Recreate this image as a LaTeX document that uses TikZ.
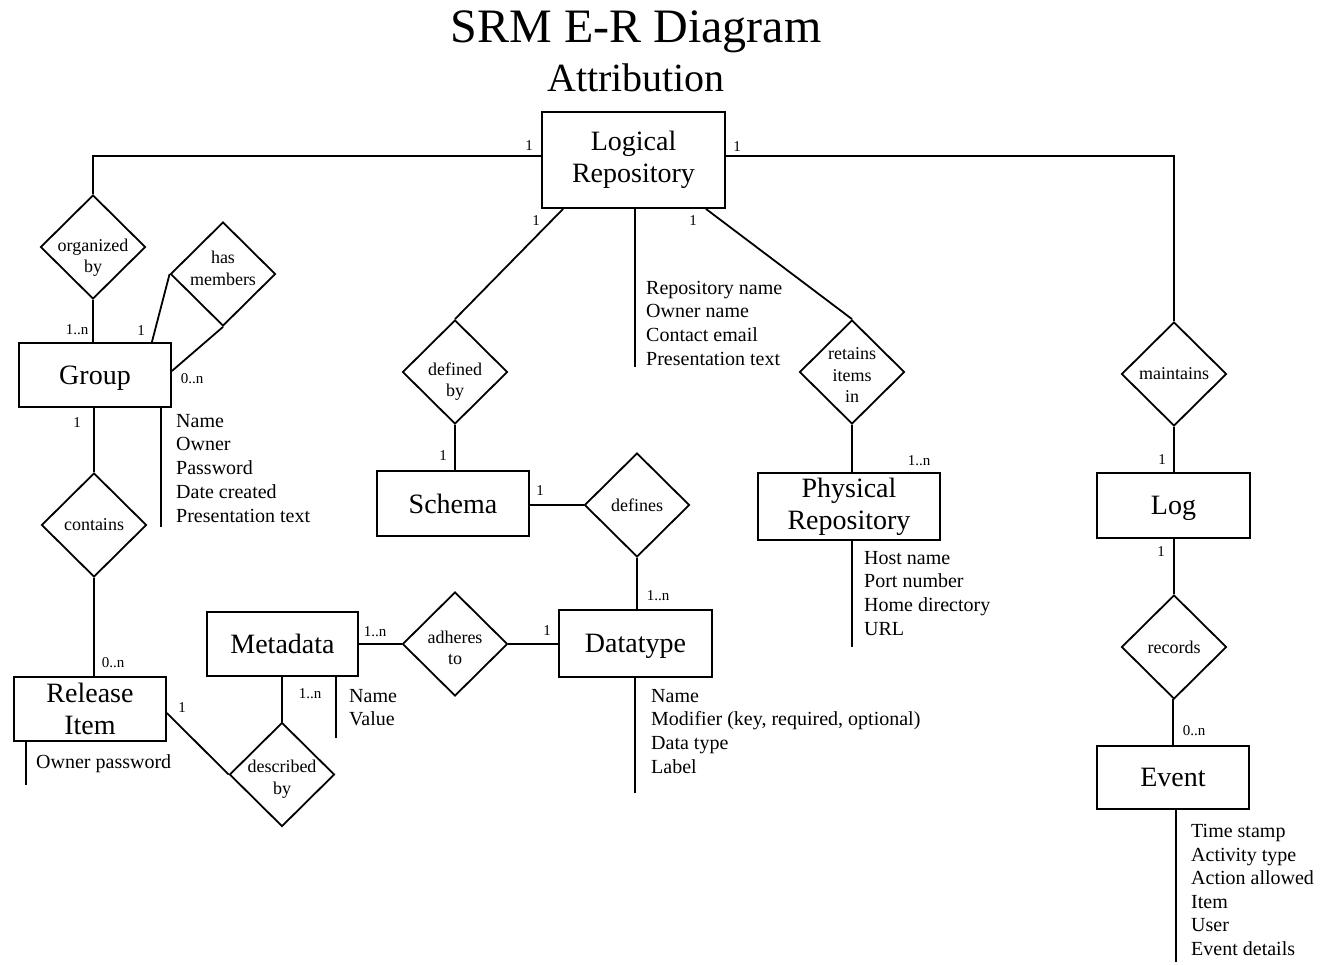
\documentclass[tikz,border=0pt]{standalone}
\usepackage{fontspec}
\setmainfont{Liberation Serif}
\usetikzlibrary{shapes.geometric,calc}

\tikzset{
  entity/.style={draw, line width=1.8pt, inner sep=0pt, align=center,
    font=\fontsize{28}{32}\selectfont},
  flat/.style={text depth=0pt},
  relation/.style={draw, shape=diamond, line width=1.8pt, inner sep=-12pt,
    minimum width=105pt, minimum height=104pt, align=center,
    font=\fontsize{18}{21.5}\selectfont},
  card/.style={font=\fontsize{15}{18}\selectfont, inner sep=0pt},
  attrs/.style={anchor=north west, inner sep=0pt, align=left,
    font=\fontsize{20}{23.8}\selectfont},
  link/.style={line width=1.8pt},
}
% invisible struts that nudge a diamond label down (\dropby) or up (\liftby)
\newcommand{\dropby}[1]{\rule{0pt}{#1}}
\newcommand{\liftby}[1]{\rule[-#1]{0pt}{#1}}

\begin{document}
\begin{tikzpicture}[x=1pt, y=-1pt]
\fill[white] (0,0) rectangle (1321,964);
\useasboundingbox (0,0) rectangle (1321,964);

% headings
\node (title) [anchor=base, inner sep=0pt, font=\fontsize{48}{56}\selectfont] at (636,42) {SRM E-R Diagram};
\node (subtitle) [anchor=base, inner sep=0pt, font=\fontsize{40}{46}\selectfont] at (636,91) {Attribution};

% entities
\node (lr)  [entity, minimum width=183pt, minimum height=96pt] at (633.5,160) {Logical\\Repository};
\node (grp) [entity, flat, minimum width=152pt, minimum height=64pt] at (95,375) {Group};
\node (rel) [entity, minimum width=152pt, minimum height=64pt] at (90,709) {Release\\Item};
\node (md)  [entity, flat, minimum width=151pt, minimum height=64pt] at (282.5,644) {Metadata};
\node (sc)  [entity, flat, minimum width=152pt, minimum height=65pt] at (453,503.5) {Schema};
\node (dt)  [entity, flat, minimum width=153pt, minimum height=67pt] at (635.5,643.5) {Datatype};
\node (pr)  [entity, minimum width=182pt, minimum height=67pt] at (849,506.5) {Physical\\Repository};
\node (log) [entity, flat, minimum width=153pt, minimum height=65pt] at (1173.5,505.5) {Log};
\node (ev)  [entity, flat, minimum width=152pt, minimum height=63pt] at (1173,777.5) {Event};

% relationships
\node (ob)  [relation] at (93,247)    {\dropby{34pt}organized\\by};
\node (hm)  [relation] at (223,274)   {has\\members\liftby{12pt}};
\node (ct)  [relation] at (94,525)    {contains};
\node (db)  [relation] at (282,774.5) {\dropby{22pt}described\\by};
\node (at)  [relation] at (455,644)   {\dropby{20pt}adheres\\to};
\node (dfb) [relation] at (455,372)   {\dropby{32pt}defined\\by};
\node (dfs) [relation] at (637,505)   {defines};
\node (ri)  [relation] at (852,372)   {\dropby{18pt}retains\\items\\in};
\node (mt)  [relation] at (1174,374)  {maintains};
\node (rec) [relation] at (1174,647)  {records};

% connectors
\draw[link] ([yshift=4pt]lr.west) -| (ob.north);
\draw[link] ([yshift=4pt]lr.east) -| (mt.north);
\draw[link] (ob.south) -- (ob.south |- grp.north);
\draw[link] ([xshift=-20pt]grp.north east) -- (hm.west);
\draw[link] ([yshift=4pt]grp.east) -- (hm.south);
\draw[link] (ct.north) -- (ct.north |- grp.south);
\draw[link] (ct.south) -- (ct.south |- rel.north);
\draw[link] ([yshift=-4pt]rel.east) -- (db.west);
\draw[link] (db.north) -- (db.north |- md.south);
\draw[link] (at.west) -- (at.west -| md.east);
\draw[link] (at.east) -- (at.east -| dt.west);
\draw[link] ([xshift=22pt]lr.south west) -- (dfb.north);
\draw[link] (dfb.south) -- (dfb.south |- sc.north);
\draw[link] (dfs.west) -- (dfs.west -| sc.east);
\draw[link] (dfs.south) -- (dfs.south |- dt.north);
\draw[link] ([xshift=-20pt]lr.south east) -- (ri.north);
\draw[link] (ri.south) -- (ri.south |- pr.north);
\draw[link] (mt.south) -- (mt.south |- log.north);
\draw[link] (log.south -| rec.north) -- (rec.north);
\draw[link] (rec.south) -- (rec.south -| ev.north) -- (ev.north);

% attribute stems
\coordinate (lrA)  at (635,367);
\coordinate (grpA) at (161,527);
\coordinate (relA) at (26,785);
\coordinate (mdA)  at (336,738);
\coordinate (dtA)  at (635,793);
\coordinate (prA)  at (852,647);
\coordinate (evA)  at (1176,962);
\draw[link] (lrA |- lr.south) -- (lrA);
\draw[link] (grpA |- grp.south) -- (grpA);
\draw[link] (relA |- rel.south) -- (relA);
\draw[link] (mdA |- md.south) -- (mdA);
\draw[link] (dtA |- dt.south) -- (dtA);
\draw[link] (prA |- pr.south) -- (prA);
\draw[link] (evA |- ev.south) -- (evA);

% attribute lists
\node (lrT)  [attrs] at (646,277.3)  {\strut Repository name\\Owner name\\Contact email\\Presentation text};
\node (grpT) [attrs] at (176,410.3)  {\strut Name\\Owner\\Password\\Date created\\Presentation text};
\node (relT) [attrs] at (36,751.3)   {\strut Owner password};
\node (mdT)  [attrs] at (349,685.3)  {\strut Name\\Value};
\node (dtT)  [attrs] at (651,685.3)  {\strut Name\\Modifier (key, required, optional)\\Data type\\Label};
\node (prT)  [attrs] at (864,547.3)  {\strut Host name\\Port number\\Home directory\\URL};
\node (evT)  [attrs, font=\fontsize{20}{23.5}\selectfont] at (1191,821.3) {\strut Time stamp\\Activity type\\Action allowed\\Item\\User\\Event details};

% cardinalities
\node (c1)  [card] at (529,146) {1};
\node (c2)  [card] at (737,147) {1};
\node (c3)  [card] at (536,221) {1};
\node (c4)  [card] at (693,221) {1};
\node (c5)  [card] at (77,330)  {1..n};
\node (c6)  [card] at (141,331) {1};
\node (c7)  [card] at (192,379) {0..n};
\node (c8)  [card] at (77,423)  {1};
\node (c9)  [card] at (113,663) {0..n};
\node (c10) [card] at (182,708) {1};
\node (c11) [card] at (310,694) {1..n};
\node (c12) [card] at (375,632) {1..n};
\node (c13) [card] at (547,631) {1};
\node (c14) [card] at (443,456) {1};
\node (c15) [card] at (540,491) {1};
\node (c16) [card] at (658,596) {1..n};
\node (c17) [card] at (919,461) {1..n};
\node (c18) [card] at (1162,460) {1};
\node (c19) [card] at (1161,552) {1};
\node (c20) [card] at (1194,731) {0..n};
\end{tikzpicture}
\end{document}
